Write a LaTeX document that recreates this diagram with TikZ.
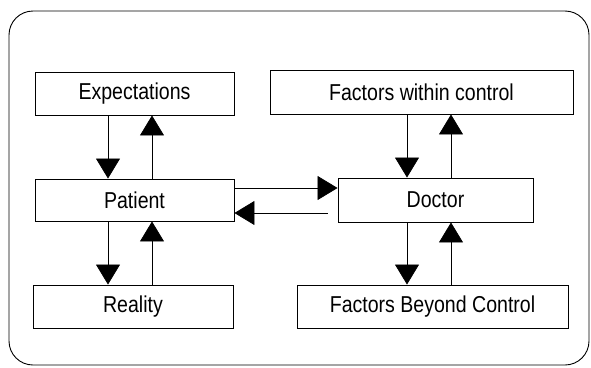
\documentclass[tikz,border=0pt]{standalone}
\usepackage{fontspec}
\setmainfont{Liberation Sans}[FakeStretch=0.85]
\usetikzlibrary{arrows.meta}
\begin{document}
\begin{tikzpicture}[x=1pt, y=-1pt,
    every node/.style={rectangle, draw, line width=0.9pt, inner sep=0pt, font=\fontsize{23}{26}\selectfont, text=black},
    link/.style={line width=0.8pt, -{Triangle[width=24pt, length=20pt]}}]

    % Define frame
    \useasboundingbox (0,0) rectangle (591,367);
    \draw[line width=0.9pt, rounded corners=24pt] (9,11) rectangle (589,365);

    % Boxes
    \node[minimum width=199pt, minimum height=43pt] (exp) at (134.5,93.5) {Expectations};
    \node[minimum width=303pt, minimum height=44pt] (within) at (421.5,92) {Factors within control};
    \node[minimum width=199pt, minimum height=42pt] (pat) at (134.5,200) {Patient};
    \node[minimum width=195pt, minimum height=44pt] (doc) at (435.5,200) {Doctor};
    \node[minimum width=200pt, minimum height=43pt] (real) at (133,306.5) {Reality};
    \node[minimum width=271pt, minimum height=43pt] (beyond) at (432.5,306.5) {Factors Beyond Control};

    % Patient side
    \draw[link] ([xshift=-26.5pt]exp.south) -- ([xshift=-26.5pt]exp.south |- pat.north);
    \draw[link] ([xshift=17.5pt]pat.north) -- ([xshift=17.5pt]pat.north |- exp.south);
    \draw[link] ([xshift=-26.5pt]pat.south) -- ([xshift=-26.5pt]pat.south |- real.north);
    \draw[link] ([xshift=17.5pt]real.north -| pat.south) -- ([xshift=17.5pt]pat.south);

    % Doctor side
    \draw[link] ([xshift=-28.5pt]within.south -| doc.north) -- ([xshift=-28.5pt]doc.north);
    \draw[link] ([xshift=15.5pt]doc.north) -- ([xshift=15.5pt]doc.north |- within.south);
    \draw[link] ([xshift=-28.5pt]doc.south) -- ([xshift=-28.5pt]doc.south |- beyond.north);
    \draw[link] ([xshift=15.5pt]beyond.north -| doc.south) -- ([xshift=15.5pt]doc.south);

    % Between patient and doctor
    \draw[link] ([yshift=12pt]pat.east) -- ([yshift=12pt]pat.east -| doc.west);
    \draw[link, shorten <=10pt] ([yshift=-13pt]doc.west) -- ([yshift=-13pt]doc.west -| pat.east);

\end{tikzpicture}
\end{document}
